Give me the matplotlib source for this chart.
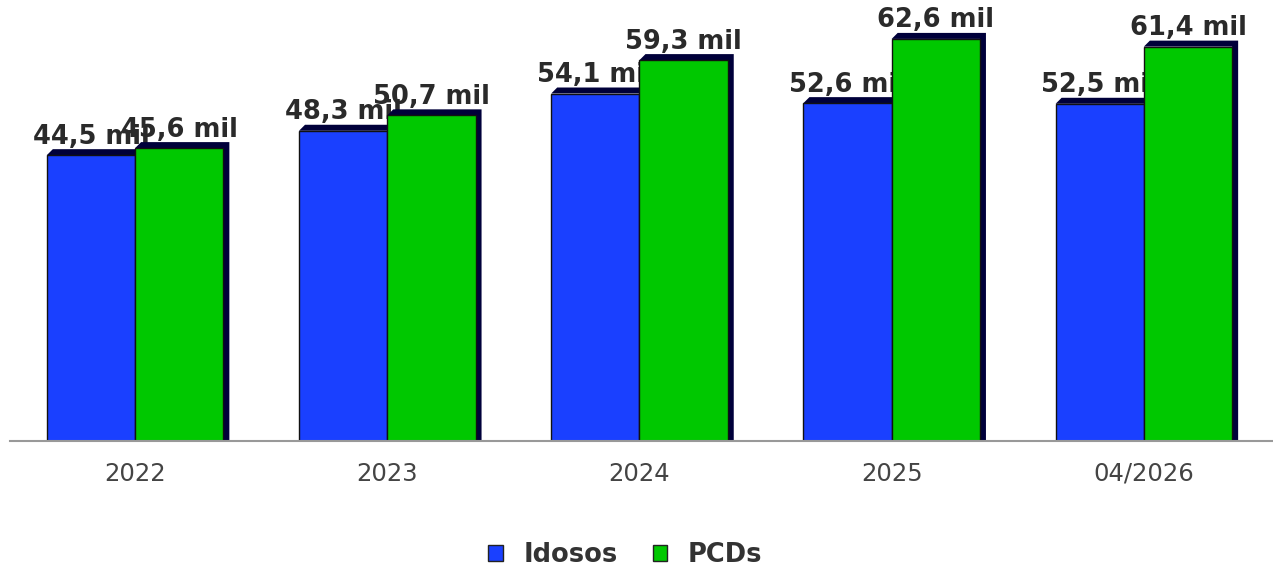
import matplotlib
matplotlib.use("Agg")
import matplotlib.pyplot as plt
from matplotlib.patches import Polygon, Rectangle
import numpy as np

plt.rcParams["font.family"] = ["DejaVu Sans"]

categories = ["2022", "2023", "2024", "2025", "04/2026"]
idosos = [44.5, 48.3, 54.1, 52.6, 52.5]
pcds = [45.6, 50.7, 59.3, 62.6, 61.4]
series_names = ["Idosos", "PCDs"]
colors = ["#1a40ff", "#00c800"]
shadow = "#00003a"

W, H = 12.73, 5.70
fig = plt.figure(figsize=(W, H), dpi=100)
ax_left, ax_right, ax_top, ax_bottom = 10, 1273, 10, 441
ax = fig.add_axes([ax_left / 1273, 1 - ax_bottom / 570,
                   (ax_right - ax_left) / 1273, (ax_bottom - ax_top) / 570])
ax.set_xlim(-0.496, 4.512)
ax.set_ylim(0, 67.1)
for s in ["top", "right", "left"]:
    ax.spines[s].set_visible(False)
ax.spines["bottom"].set_color("#999999")
ax.spines["bottom"].set_linewidth(1.5)
ax.spines["bottom"].set_zorder(20)
ax.set_yticks([])
x = np.arange(len(categories))
ax.set_xticks(x)
ax.set_xticklabels(categories, fontsize=17.5, color="#444444")
ax.tick_params(axis="x", length=0, pad=15)

bw = 0.35
px_x = (4.512 + 0.496) / (ax_right - ax_left)
px_y = 67.1 / (ax_bottom - ax_top)
d = 6
dx, dy = d * px_x, d * px_y

for si, vals in enumerate([idosos, pcds]):
    base_z = 2 + si * 3
    for i, v in enumerate(vals):
        x0 = x[i] - bw + si * bw
        x1 = x0 + bw
        poly = Polygon([(x0, v), (x0 + dx, v + dy), (x1 + dx, v + dy),
                        (x1 + dx, 0), (x1, 0), (x1, v)],
                       closed=True, facecolor=shadow, edgecolor="none",
                       zorder=base_z, clip_on=False)
        ax.add_patch(poly)
        ax.add_patch(Rectangle((x0, 0), bw, v, facecolor=colors[si],
                               edgecolor="#111111", linewidth=1,
                               zorder=base_z + 1))
        ax.annotate(f"{v:.1f} mil".replace(".", ","), (x0 + bw / 2, v + dy),
                    xytext=(0, 4), textcoords="offset points",
                    ha="center", va="baseline", fontsize=18.5,
                    fontweight="bold", color="#2a2a2a", zorder=base_z + 2,
                    annotation_clip=False)

handles = [Rectangle((0, 0), 1, 1, facecolor=c, edgecolor="#222222", linewidth=1)
           for c in colors]
leg = fig.legend(handles, series_names, loc="center",
                 bbox_to_anchor=(625.5 / 1273, 1 - 555 / 570),
                 ncol=2, frameon=False, handlelength=0.55, handleheight=0.55,
                 columnspacing=1.4, handletextpad=0.8,
                 prop={"weight": "bold", "size": 18.5})
for t in leg.get_texts():
    t.set_color("#333333")

fig.savefig("out.png", dpi=100)
